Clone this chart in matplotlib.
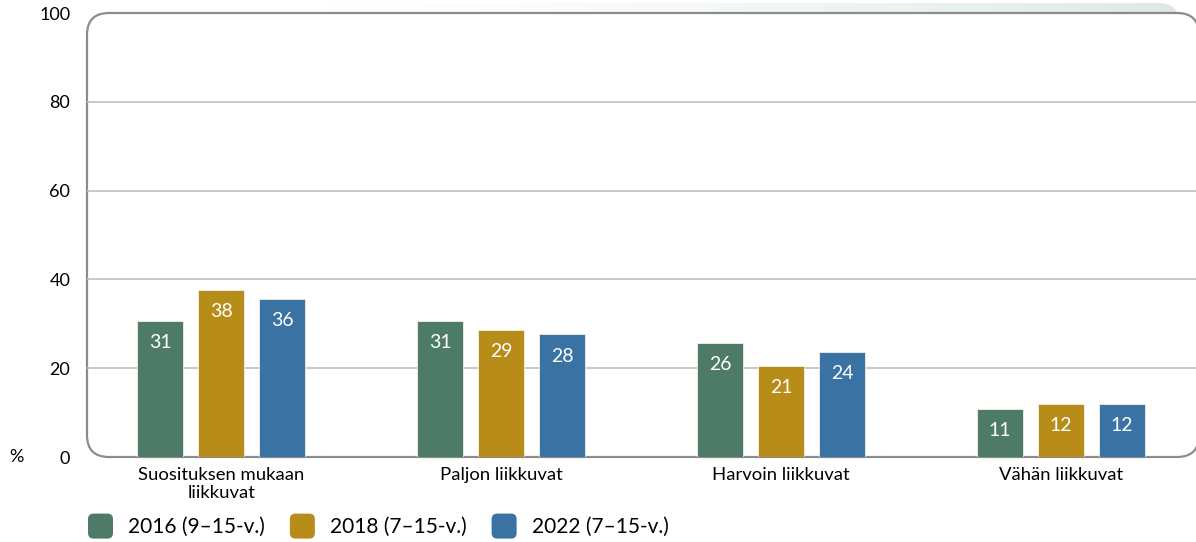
"""
Liikkumisryhmien osuudet (%) vuosina 2016, 2018 ja 2022
"""
import numpy as np
import matplotlib
matplotlib.use('Agg')
import matplotlib.pyplot as plt
from matplotlib.patches import FancyBboxPatch
from matplotlib.legend_handler import HandlerPatch
from matplotlib.patches import Patch

plt.rcParams['font.family'] = ['Lato', 'DejaVu Sans']
plt.rcParams['font.size'] = 13

# data
categories = ['Suosituksen mukaan\nliikkuvat', 'Paljon liikkuvat',
              'Harvoin liikkuvat', 'Vähän liikkuvat']
series_names = ['2016 (9–15-v.)', '2018 (7–15-v.)', '2022 (7–15-v.)']
values_2016 = [30.6, 30.6, 25.6, 10.9]
values_2018 = [37.6, 28.6, 20.6, 11.9]
values_2022 = [35.6, 27.6, 23.6, 11.9]
y_ticks = [0, 20, 40, 60, 80, 100]

colors = ['#4e7b68', '#b78c19', '#3a73a3']
series = [values_2016, values_2018, values_2022]

W, H = 1196, 542
fig = plt.figure(figsize=(W / 100, H / 100), dpi=100)

# tausta: varjo + pyöristetty kehys (pikseleinä)
bg = fig.add_axes([0, 0, 1, 1], zorder=-1)
bg.set_xlim(0, W)
bg.set_ylim(0, H)
bg.axis('off')

shadow = FancyBboxPatch((70, 90), 1110, 449, boxstyle='round,pad=0,rounding_size=22',
                        facecolor='none', edgecolor='none')
bg.add_patch(shadow)
grad = np.linspace(0, 1, 256)[None, :] ** 1.5
cmap = matplotlib.colors.LinearSegmentedColormap.from_list('sh', ['#ffffff', '#dde9e3'])
im = bg.imshow(grad, extent=(300, 1190, 85, 540), cmap=cmap, aspect='auto', zorder=0)
im.set_clip_path(shadow)

frame = FancyBboxPatch((87, H - 457), 1112, 444, boxstyle='round,pad=0,rounding_size=22',
                       facecolor='white', edgecolor='#8c8c8c', linewidth=1.6, zorder=1)
bg.add_patch(frame)

ax = fig.add_axes([87 / W, 1 - 457 / H, (W - 87) / W, 444 / H])
ax.set_facecolor('none')
for s in ax.spines.values():
    s.set_visible(False)

x = np.arange(len(categories))
width = 0.164
offsets = [-0.218, 0, 0.218]

for t in y_ticks[1:-1]:
    ax.axhline(t, color='#bfbfbf', linewidth=1.2, zorder=0)

for vals, col, off, name in zip(series, colors, offsets, series_names):
    bars = ax.bar(x + off, vals, width, color=col, edgecolor='#f3f0e6', linewidth=0.6,
                  zorder=2, label=name)
    for b, v in zip(bars, vals):
        ax.annotate(f'{v:.0f}', (b.get_x() + b.get_width() / 2, b.get_height()),
                    xytext=(0, -14.5), textcoords='offset points', ha='center', va='center_baseline',
                    color='white', fontsize=14, zorder=3)

ax.set_xlim(-0.479, 3.482)
ax.set_ylim(0, 100)
ax.set_yticks(y_ticks)
ax.set_xticks(x)
ax.set_xticklabels(categories, linespacing=1.2)
ax.tick_params(axis='y', length=0, pad=12, labelsize=13)
ax.tick_params(axis='x', length=0, pad=7, labelsize=13.3)

fig.text(16 / W, 1 - 457 / H, '%', ha='center', va='center', fontsize=13)


class RoundHandler(HandlerPatch):
    def create_artists(self, legend, orig_handle, xdescent, ydescent, width, height,
                       fontsize, trans):
        p = FancyBboxPatch((-xdescent, -ydescent - (width - height) / 2), width, width,
                           boxstyle='round,pad=0,rounding_size=4',
                           facecolor=orig_handle.get_facecolor(), edgecolor='none',
                           transform=trans)
        return [p]


handles = [Patch(facecolor=c, label=n) for c, n in zip(colors, series_names)]
fig.legend(handles=handles, loc='center left', bbox_to_anchor=(88 / W, 1 - 527 / H),
           ncol=3, frameon=False, borderpad=0, borderaxespad=0, fontsize=15,
           handlelength=1.2, handleheight=1.0, handletextpad=0.72, columnspacing=1.2,
           handler_map={Patch: RoundHandler()})

fig.savefig('out.png', dpi=100)
